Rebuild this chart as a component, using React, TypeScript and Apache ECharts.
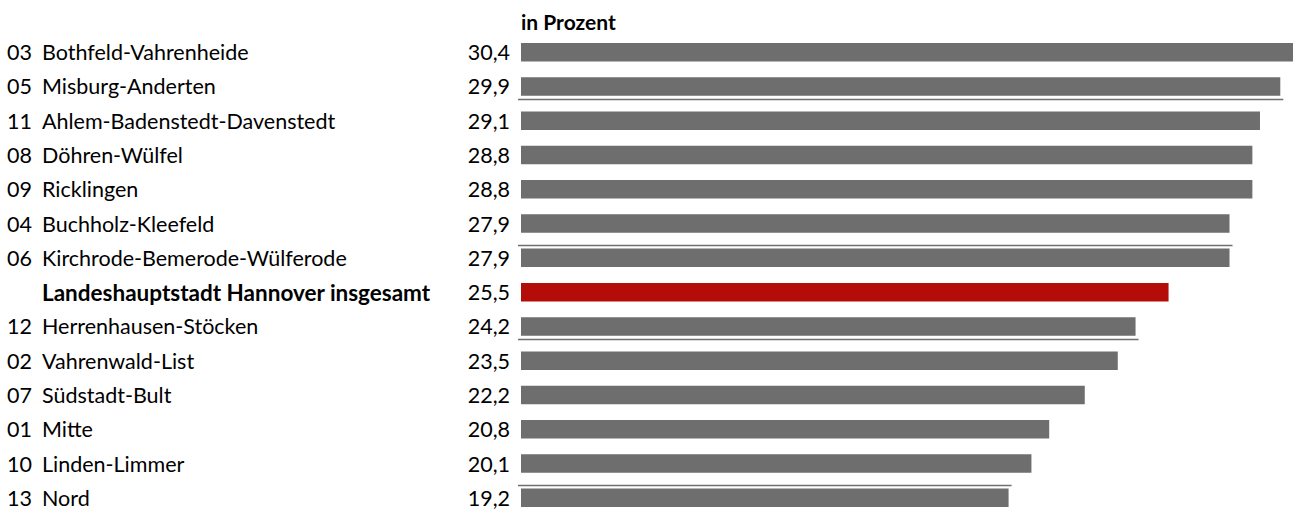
import React, { useEffect, useRef } from "react";
import * as echarts from "echarts";

const codes = ["03", "05", "11", "08", "09", "04", "06", "", "12", "02", "07", "01", "10", "13"];
const names = [
  "Bothfeld-Vahrenheide",
  "Misburg-Anderten",
  "Ahlem-Badenstedt-Davenstedt",
  "Döhren-Wülfel",
  "Ricklingen",
  "Buchholz-Kleefeld",
  "Kirchrode-Bemerode-Wülferode",
  "Landeshauptstadt Hannover insgesamt",
  "Herrenhausen-Stöcken",
  "Vahrenwald-List",
  "Südstadt-Bult",
  "Mitte",
  "Linden-Limmer",
  "Nord",
];
const values = [30.4, 29.9, 29.1, 28.8, 28.8, 27.9, 27.9, 25.5, 24.2, 23.5, 22.2, 20.8, 20.1, 19.2];
const totalIndex = 7;
const unitLabel = "in Prozent";

// separator lines: row index they sit under, fraction of the band below the row centre, and length (value)
const separatorRows = [1, 5, 8, 12];
const separatorOffsets = [0.356, 0.637, 0.356, 0.637];
const separatorLengths = [29.9, 27.9, 24.2, 19.2];

const FONT = "Lato";
const GRAY = "#6e6e6e";
const RED = "#b40c08";

export default function App() {
  const ref = useRef<HTMLDivElement>(null);

  useEffect(() => {
    if (!ref.current) return;
    const chart = echarts.init(ref.current, null, { renderer: "svg" });
    const cats = names.map((_, i) => String(i));

    const option = {
      animation: false,
      backgroundColor: "#ffffff",
      textStyle: { fontFamily: FONT },
      title: {
        text: unitLabel,
        left: 516,
        top: 6,
        textStyle: { fontFamily: FONT, fontSize: 21, fontWeight: "bold", color: "#000" },
      },
      grid: { left: 521, top: 35, width: 772, height: 483.6 },
      xAxis: {
        type: "value",
        min: 0,
        max: 30.4,
        show: false,
      },
      yAxis: {
        type: "category",
        inverse: true,
        data: cats,
        axisLine: { show: false },
        axisTick: { show: false },
        splitLine: { show: false },
        axisLabel: {
          margin: 514,
          align: "left",
          formatter: (v: string) => {
            const i = Number(v);
            if (i === totalIndex) return `{code| }{bold|${names[i]}}`;
            return `{code|${codes[i]}}{name|${names[i]}}`;
          },
          rich: {
            code: { width: 35, fontFamily: FONT, fontSize: 21.5, color: "#000" },
            name: { fontFamily: FONT, fontSize: 21.5, color: "#000" },
            bold: { fontFamily: FONT, fontSize: 22.5, fontWeight: "bold", color: "#000" },
          },
        },
      },
      series: [
        {
          type: "bar",
          barWidth: 18.5,
          data: values.map((v, i) => ({
            value: v,
            itemStyle: { color: i === totalIndex ? RED : GRAY },
          })),
          label: {
            show: true,
            position: "left",
            distance: 11,
            fontFamily: FONT,
            fontSize: 21.5,
            color: "#000",
            formatter: (p: any) => p.value.toFixed(1).replace(".", ","),
          },
        },
        {
          type: "custom",
          data: separatorRows.map((r, i) => [separatorLengths[i], r, separatorOffsets[i]]),
          encode: { x: 0, y: 1 },
          renderItem: (params: any, api: any) => {
            const len = api.value(0);
            const row = api.value(1);
            const frac = api.value(2);
            const start = api.coord([0, row]);
            const end = api.coord([len, row]);
            const band = api.size([0, 1])[1];
            const y = Math.round(start[1] + frac * band) + 0.5;
            return {
              type: "line",
              shape: { x1: start[0] - 3, y1: y, x2: end[0] + 3, y2: y },
              style: { stroke: "#707070", lineWidth: 1.3 },
            };
          },
          z: 5,
        },
      ],
    };
    chart.setOption(option as any);
    return () => chart.dispose();
  }, []);

  return (
    <div
      ref={ref}
      style={{ position: "absolute", left: 0, top: 0, width: 1298, height: 515 }}
    />
  );
}
